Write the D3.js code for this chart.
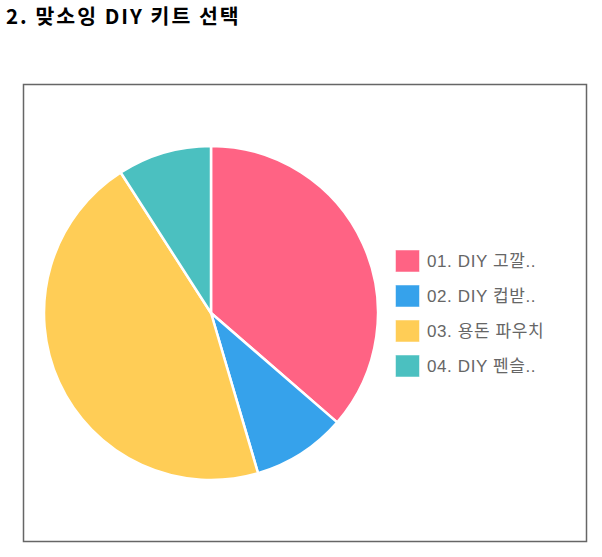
<!DOCTYPE html>
<html>
<head>
<meta charset="utf-8">
<script src="https://cdn.jsdelivr.net/npm/d3@7"></script>
<style>
  body { margin: 0; background: #fff; }
  svg { display: block; }
</style>
</head>
<body>
<div id="chart"></div>
<script>
const title = '2. 맞소잉 DIY 키트 선택';
const labels = ['01. DIY 고깔..', '02. DIY 컵받..', '03. 용돈 파우치', '04. DIY 펜슬..'];
const counts = [4, 1, 5, 1];
const colors = ['#FF6384', '#36A2EB', '#FFCD56', '#4BC0C0'];

const width = 602;
const height = 557;

const svg = d3
  .select('#chart')
  .append('svg')
  .attr('width', width)
  .attr('height', height)
  .attr('viewBox', [0, 0, width, height]);

svg
  .append('text')
  .attr('x', 6)
  .attr('y', 24)
  .attr('font-family', "'Noto Sans CJK KR', sans-serif")
  .attr('font-weight', 'bold')
  .attr('font-size', 20.5)
  .attr('letter-spacing', 2)
  .attr('fill', '#000')
  .text(title);

// frame
svg
  .append('rect')
  .attr('x', 23.5)
  .attr('y', 84.5)
  .attr('width', 563)
  .attr('height', 457)
  .attr('fill', 'none')
  .attr('stroke', '#666')
  .attr('stroke-width', 1.5);

const cx = 211;
const cy = 313;
const radius = 167;

const pie = d3.pie().sort(null).value((d) => d);
const arc = d3.arc().innerRadius(0).outerRadius(radius);
const color = d3.scaleOrdinal().domain(labels).range(colors);

svg
  .append('g')
  .attr('transform', `translate(${cx},${cy})`)
  .selectAll('path')
  .data(pie(counts))
  .join('path')
  .attr('d', arc)
  .attr('fill', (d, i) => color(labels[i]))
  .attr('stroke', '#fff')
  .attr('stroke-width', 2.5)
  .attr('stroke-linejoin', 'round');

// legend
const legendY = d3.scalePoint().domain(labels).range([261, 366]);

const legend = svg
  .append('g')
  .selectAll('g')
  .data(labels)
  .join('g')
  .attr('transform', (d) => `translate(395,${legendY(d)})`);

legend
  .append('rect')
  .attr('x', 0.5)
  .attr('y', -11)
  .attr('width', 24)
  .attr('height', 22)
  .attr('fill', (d) => color(d))
  .attr('stroke', '#fff')
  .attr('stroke-opacity', 0.5);

legend
  .append('text')
  .attr('x', 32)
  .attr('y', 0)
  .attr('dy', '0.36em')
  .attr('font-family', "'Liberation Sans', 'Noto Sans CJK KR', sans-serif")
  .attr('font-size', 17)
  .attr('letter-spacing', 0.6)
  .attr('fill', '#666')
  .text((d) => d);
</script>
</body>
</html>
